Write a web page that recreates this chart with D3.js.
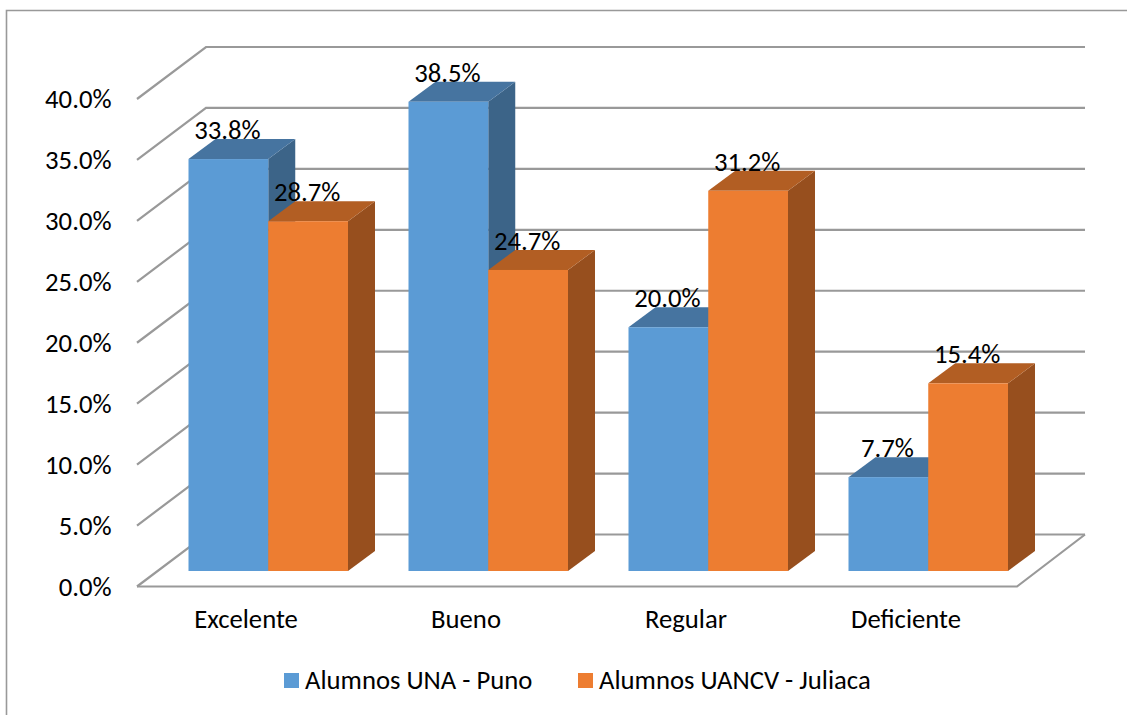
<!DOCTYPE html>
<html>
<head>
<meta charset="utf-8">
<style>
  html, body { margin: 0; padding: 0; background: #fff; }
  svg { display: block; }
  text { font-family: Carlito, Lato, "Open Sans", sans-serif; fill: #000; }
  .grid { stroke: #999; stroke-width: 2.2; fill: none; }
  .axis text { font-size: 26.7px; }
  .axis path, .axis line { display: none; }
  .label { font-size: 26.7px; text-anchor: middle; }
  .legend text { font-size: 26.7px; }
</style>
</head>
<body>
<svg id="chart" width="1127" height="715"></svg>
<script src="https://cdn.jsdelivr.net/npm/d3@7"></script>
<script>
const categories = ['Excelente', 'Bueno', 'Regular', 'Deficiente'];
const seriesNames = ['Alumnos UNA - Puno', 'Alumnos UANCV - Juliaca'];
const unaValues = [33.8, 38.5, 20.0, 7.7];
const uancvValues = [28.7, 24.7, 31.2, 15.4];
const yTicks = [0, 5, 10, 15, 20, 25, 30, 35, 40];
const faceColors = ['#5b9bd5', '#ed7d31'];
const topColors = ['#4674a0', '#b25e23'];
const sideColors = ['#3c6488', '#974f1e'];

const wallDx = 69;
const wallDy = -52;
const barDx = 27;
const barDy = -20;
const baseLift = 15.5;

const svg = d3.select('#chart');
const x = d3.scaleBand().domain(categories).range([137, 1017]);
const y = d3.scaleLinear().domain([0, 40]).range([586.5, 99]);
const barX = d3.scaleBand().domain([0, 1]).range([51.5, 211]);

// chart frame
svg.append('path')
  .attr('d', 'M6.5,715V10.5H1127')
  .attr('fill', 'none')
  .attr('stroke', '#999')
  .attr('stroke-width', 1.6);

// gridlines: diagonal on the side wall, then along the back wall
const gridWrapper = svg.append('g').attr('id', 'grid');
gridWrapper
  .selectAll('path')
  .data(yTicks)
  .enter()
    .append('path')
    .classed('grid', true)
    .attr('d', (d) => `M${x.range()[0]},${y(d)}l${wallDx},${wallDy}H${x.range()[1] + wallDx - 1}`);
gridWrapper
  .append('path')
  .classed('grid', true)
  .attr('d', `M${x.range()[0]},${y(0)}H${x.range()[1]}l${wallDx - 1},${wallDy}`);

// bars
const rows = categories.flatMap((c, i) => [
  { category: c, s: 0, value: unaValues[i] },
  { category: c, s: 1, value: uancvValues[i] },
]);
const barsWrapper = svg.append('g').attr('id', 'bars');
const bar = barsWrapper
  .selectAll('g')
  .data(rows)
  .enter()
    .append('g')
    .attr('transform', (d) => `translate(${x(d.category) + barX(d.s)},0)`);
const w = barX.bandwidth();
const topY = (d) => y(d.value) - baseLift;
const baseY = y(0) - baseLift;
bar.append('path')
  .attr('fill', (d) => sideColors[d.s])
  .attr('d', (d) => `M${w},${topY(d)}l${barDx},${barDy}V${baseY + barDy}l${-barDx},${-barDy}Z`);
bar.append('path')
  .attr('fill', (d) => topColors[d.s])
  .attr('d', (d) => `M0,${topY(d)}l${barDx},${barDy}h${w}l${-barDx},${-barDy}Z`);
bar.append('rect')
  .attr('fill', (d) => faceColors[d.s])
  .attr('y', topY)
  .attr('width', w)
  .attr('height', (d) => baseY - topY(d));

// data labels
svg.append('g')
  .attr('id', 'labels')
  .selectAll('text')
  .data(rows)
  .enter()
    .append('text')
    .classed('label', true)
    .attr('x', (d) => x(d.category) + barX(d.s) + w / 2 - 1)
    .attr('y', (d) => topY(d) + barDy)
    .text((d) => d.value.toFixed(1) + '%');

// axes
svg.append('g')
  .classed('axis', true)
  .attr('transform', 'translate(119.5,0)')
  .call(d3.axisLeft(y).tickValues(yTicks).tickSize(0).tickPadding(8).tickFormat((d) => d.toFixed(1) + '%'));
svg.append('g')
  .classed('axis', true)
  .attr('transform', 'translate(-1,601)')
  .call(d3.axisBottom(x).tickSize(0).tickPadding(8));

// legend
const legendX = [284, 578];
const legend = svg.append('g')
  .classed('legend', true)
  .selectAll('g')
  .data(seriesNames)
  .enter()
    .append('g')
    .attr('transform', (d, i) => `translate(${legendX[i]},673)`);
legend.append('rect')
  .attr('width', 15)
  .attr('height', 15)
  .attr('fill', (d, i) => faceColors[i]);
legend.append('text')
  .attr('x', 21)
  .attr('y', 16)
  .text((d) => d);
</script>
</body>
</html>
